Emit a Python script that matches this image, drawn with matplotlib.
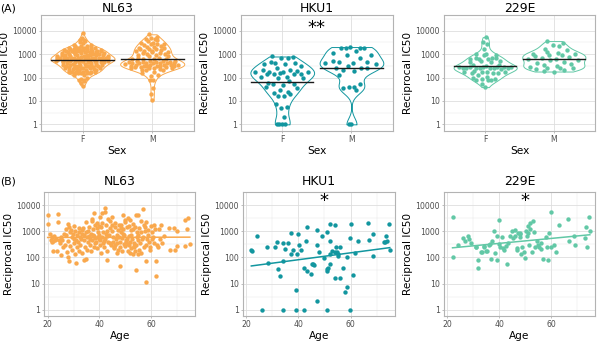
import numpy as np
import matplotlib
matplotlib.use("Agg")
import matplotlib.pyplot as plt

plt.rcParams["font.family"] = ["DejaVu Sans"]

# ---------------- data ----------------
viruses = ["NL63", "HKU1", "229E"]
colors = ["#F9A84D", "#12969F", "#62C8A6"]
sex_levels = ["F", "M"]
y_tick_labels = ["1", "10", "100", "1000", "10000"]
age_ticks = [20, 40, 60]
top_stars = ["", "**", ""]
bottom_stars = ["", "*", "*"]

nl63_age = [
    20, 20.2,
    21, 21.3, 21.6,
    22, 22.2, 22.5, 21.8,
    23, 23.4,
    24, 24.1, 23.8, 24.4,
    25, 25.3, 24.8,
    26, 26.3, 25.7,
    27, 27.2, 26.8, 27.4,
    28, 28.3, 27.7, 28.1, 28.5, 27.9,
    29, 29.3, 28.8, 29.5,
    30, 30.2, 29.8, 30.4, 30.1,
    31, 31.2, 30.7, 31.4, 31.1,
    32, 32.3, 31.8, 32.1, 32.5,
    33, 33.2, 32.7, 33.4, 33.1,
    34, 34.2, 33.7, 34.4, 34.1,
    35, 35.3, 34.8, 35.1, 35.5, 34.9,
    36, 36.2, 35.7, 36.4, 36.1,
    37, 37.3, 36.8, 37.1, 37.5, 36.9,
    38, 38.2, 37.7, 38.4, 38.1, 37.9, 38.5,
    39, 39.3, 38.8, 39.1, 39.5, 38.9,
    40, 40.2, 39.7, 40.4, 40.1, 39.9, 40.5,
    41, 41.3, 40.8, 41.1, 41.5, 40.9,
    42, 42.2, 41.7, 42.4, 42.1, 41.9, 42.5,
    43, 43.3, 42.8, 43.1, 43.5, 42.9,
    44, 44.2, 43.7, 44.4, 44.1,
    45, 45.3, 44.8, 45.1, 45.5, 44.9,
    46, 46.2, 45.7, 46.4, 46.1,
    47, 47.3, 46.8, 47.1, 47.5, 46.9,
    48, 48.2, 47.7, 48.4, 48.1, 47.9, 48.5,
    49, 49.3, 48.8, 49.1, 49.5, 48.9,
    50, 50.2, 49.7, 50.4, 50.1, 49.9, 50.5,
    51, 51.3, 50.8, 51.1, 51.5, 50.9, 51.4,
    52, 52.2, 51.7, 52.4, 52.1, 51.9,
    53, 53.3, 52.8, 53.1, 53.5, 52.9, 53.4,
    54, 54.2, 53.7, 54.4, 54.1, 53.9, 54.5,
    55, 55.3, 54.8, 55.1, 55.5, 54.9,
    56, 56.2, 55.7, 56.4, 56.1,
    57, 57.3, 56.8, 57.1, 57.5,
    58, 58.2, 57.7, 58.4, 58.1, 57.9,
    59, 59.3, 58.8, 59.5,
    60, 60.2, 59.7, 60.4,
    61, 61.3, 60.8,
    62, 62.1, 61.7, 62.4,
    63, 63.3, 62.8,
    64, 64.2,
    65,
    67, 67.2,
    69, 69.3,
    70, 70.2,
    73, 73.3,
    74, 74.4,
    75,
]
nl63_val = [
    4200, 1900,
    800, 450, 600,
    420, 170, 650, 380,
    450, 520,
    4400, 2200, 170, 480,
    120, 600, 350,
    250, 800, 450,
    1200, 700, 300, 160,
    1900, 1500, 100, 70, 900, 420,
    1100, 600, 280, 200,
    1600, 500, 800, 130, 350,
    60, 700, 1000, 250, 450,
    1300, 900, 400, 170, 600,
    500, 1100, 300, 150, 750,
    80, 700, 1300, 240, 450,
    2200, 600, 900, 200, 380, 90,
    1500, 500, 1000, 300, 650,
    2500, 3000, 800, 450, 1200, 180,
    4800, 1700, 700, 350, 650, 250, 550,
    2000, 900, 400, 1300, 600, 220,
    1600, 3500, 700, 450, 300, 500, 150,
    5000, 900, 1400, 600, 350, 2000,
    8000, 5500, 420, 800, 500, 250, 1700,
    80, 3000, 1000, 650, 400, 180,
    2500, 1300, 700, 300, 350,
    1800, 600, 1000, 400, 220, 3500,
    1500, 2000, 260, 500, 300,
    700, 1100, 350, 200, 1800, 150,
    45, 1800, 600, 900, 400, 250, 1300,
    4200, 1200, 550, 800, 320, 170,
    2600, 380, 700, 450, 2200, 280, 1400,
    3300, 1600, 500, 320, 300, 180, 650,
    2700, 1100, 400, 700, 230, 150,
    1900, 280, 500, 130, 350, 1200, 250,
    34, 4100, 1500, 600, 300, 180, 900,
    4300, 1300, 700, 450, 200, 130,
    2500, 900, 350, 500, 150,
    7000, 1700, 600, 250, 1000,
    11, 75, 1400, 500, 300, 2200,
    1100, 400, 700, 200,
    1600, 500, 250, 900,
    1800, 350, 600,
    20, 75, 1200, 300,
    1200, 500, 250,
    1700, 350,
    650,
    1300, 200,
    1300, 200,
    1000, 270,
    270, 2600,
    1200, 3100,
    330,
]
nl63_sex = ("FM" "FMF" "MFFM" "FM" "MFMF" "MFF" "MFF" "MFFM" "FMFFFM" "FMMF"
            "FMFFM" "FFMMF" "FMFFM" "FMMFF" "FFMMF" "MFFMFF" "FMFMF" "MFFMFF"
            "FMFMFFF" "MFMFFF" "FMFFMFF" "MFFMFF" "FMFMFFF" "FMFFMF" "FMFMF"
            "FFMMFF" "FMFMF" "FMFMFF" "FMFFMFF" "MFFMFF" "MFFMFFF" "FMFFMFF"
            "MFFMFF" "FMFMFFF" "MFFMFFF" "MFFMFF" "FMMFF" "MFFMF" "MMFFMF"
            "FMFF" "MFMF" "FMF" "MMFF" "MFF" "FM" "M" "FM" "MF" "FM" "FM" "FM" "F")

hku1_age = [22, 22.3, 24, 26, 28, 28.2, 31, 32, 32.2, 33, 34, 34.2, 34, 35, 36,
            37, 37.2, 38, 39, 39, 39.4, 40, 40.2, 41, 42, 42, 43, 43.2, 43.3,
            45, 45.3, 46, 45.8, 47, 47, 47.2, 48, 49, 50, 51, 51, 51.1, 51.2,
            51, 52, 52, 52.2, 52.1, 53, 54, 54, 54.1, 54.3, 54.7, 55, 55.1, 56,
            56, 57, 58, 58.7, 58.8, 59.7, 60, 59.8, 60.8, 61.6, 63, 66.6, 66.9,
            68.6, 68.7, 72.6, 73.3, 73.6, 73.8, 74.7, 75]
hku1_val = [185, 180, 665, 1, 260, 61, 260, 390, 36, 19, 70, 370, 1, 215, 370,
            890, 140, 200, 5.6, 1, 140, 770, 310, 200, 40, 1, 420, 30, 1400,
            24, 55, 50, 55, 310, 2.1, 1120, 165, 665, 92, 920, 30, 35, 40,
            1, 440, 55, 1850, 140, 170, 1800, 17, 155, 250, 165, 110, 130, 17,
            250, 40, 4.8, 7.5, 100, 530, 1850, 1, 22, 145, 440, 2000, 480,
            790, 110, 400, 400, 665, 420, 1900, 195]
hku1_sex = ("FFMFFFMFMFFFFMM" "MFFFMFFMFMFFFM" "FFFMFFMFFFMMFF"
            "MMFMFFMFFMFFM" "FMMFFFMMFFFFMM" "FFFMFMMM")

e229_age = [22, 22.2, 24, 26, 27, 28, 28.2, 29, 31, 31.2, 32, 32, 33, 33.4, 34,
            34.2, 35, 35.2, 36, 36.4, 37, 37.2, 38, 38.2, 39, 39, 40, 40, 40.5,
            41, 41.5, 42, 42.5, 43, 43.3, 44, 45, 45.4, 46, 46, 47, 47, 47.1,
            48, 48, 48.2, 48.4, 49, 49.4, 50, 50.2, 51, 50.7, 51.2, 51.5, 52,
            52, 52.5, 53, 53.5, 54, 54.5, 55, 55.3, 56, 56.3, 57, 58, 58.6,
            59, 59.4, 60, 60.1, 61, 62, 63, 66.5, 67, 69, 69.3, 73, 73.6, 74,
            74.8, 75]
e229_val = [3400, 103, 295, 540, 410, 660, 510, 340, 250, 260, 79, 39, 165, 160,
            260, 275, 170, 180, 295, 320, 90, 440, 1020, 150, 77, 660, 2700,
            330, 260, 590, 230, 195, 275, 54, 370, 630, 1020, 530, 1110, 660,
            230, 195, 840, 890, 590, 750, 130, 260, 165, 97, 1020, 1650, 660,
            890, 285, 2140, 1220, 165, 2400, 920, 260, 440, 295, 260, 205,
            350, 90, 590, 250, 82, 890, 5300, 250, 310, 155, 1700, 2950, 440,
            630, 295, 560, 1450, 260, 3600, 1000]
e229_sex = ("FFFMMFFFFM" "FFFFFFFMMF" "FFMFFFFMFM" "FFFFMFFFMM" "MMMFFMFFFF"
            "FMFMFMMFMM" "FMFMMFFFMF" "FFFMFFMFMF" "MMFMM")

ages = [nl63_age, hku1_age, e229_age]
vals = [nl63_val, hku1_val, e229_val]
sexes = [nl63_sex, hku1_sex, e229_sex]


# ---------------- helpers ----------------
def bw_nrd0(x):
    sd = np.std(x, ddof=1)
    iqr = np.subtract(*np.percentile(x, [75, 25]))
    lo = min(sd, iqr / 1.34) if iqr > 0 else sd
    return 0.9 * lo * len(x) ** -0.2


def kde(x, grid, h):
    z = (np.asarray(grid)[:, None] - x[None, :]) / h
    return np.exp(-0.5 * z ** 2).sum(1) / (len(x) * h * np.sqrt(2 * np.pi))


def vdc(k):
    # van der Corput radical inverse, base 2
    v, denom = 0.0, 1.0
    while k:
        denom *= 2
        v += (k % 2) / denom
        k //= 2
    return v


def style(ax):
    for s in ax.spines.values():
        s.set_color("#B3B3B3")
        s.set_linewidth(0.8)
    ax.tick_params(which="major", length=1.6, width=0.6, color="#B3B3B3",
                   labelsize=5.6, labelcolor="#4D4D4D", pad=1.3)
    ax.tick_params(which="minor", length=0)
    ax.grid(which="major", color="#DEDEDE", lw=0.6)
    ax.grid(which="minor", color="#E8E8E8", lw=0.35)
    ax.set_axisbelow(True)
    ax.set_yticks(range(5))
    ax.set_yticklabels(y_tick_labels)
    ax.set_yticks(np.arange(0.5, 4.6, 1), minor=True)
    ax.set_ylabel("Reciprocal IC50", fontsize=7.6, labelpad=1.6)


W, H = 600, 341
fig = plt.figure(figsize=(W / 100, H / 100), dpi=100)


def px_axes(x0, y0, x1, y1):
    return fig.add_axes([x0 / W, 1 - y1 / H, (x1 - x0) / W, (y1 - y0) / H])


top_boxes = [(40.7, 15, 194, 131), (240.7, 15, 393, 131), (444, 15, 595, 131)]
bot_boxes = [(44.3, 192, 195, 315.7), (242.7, 192, 395, 315.7), (444, 192, 595, 315.7)]

for i, name in enumerate(viruses):
    col = colors[i]
    a = np.array(ages[i], float)
    v = np.log10(np.array(vals[i], float))
    sx = np.array(list(sexes[i]))

    # ---- top row: violin + sina points by sex, geometric mean bar ----
    ax = px_axes(*top_boxes[i])
    for pos, lev in enumerate(sex_levels, start=1):
        y = v[sx == lev]
        h = bw_nrd0(y)
        grid = np.linspace(y.min(), y.max(), 300)
        d = kde(y, grid, h)
        half = 0.46 * d / d.max()
        ax.fill_betweenx(grid, pos - half, pos + half, facecolor="white",
                         edgecolor=col, lw=0.7, zorder=2)
        dy = 0.46 * kde(y, y, h) / d.max()
        rank = np.argsort(np.argsort(y))
        u = np.array([2 * vdc(r + 1) - 1 for r in rank])
        ax.scatter(pos + 0.88 * dy * u, y, s=10, color=col, lw=0, zorder=3)
        gm = y.mean()
        ax.plot([pos - 0.45, pos + 0.45], [gm, gm], color="#1A1A1A", lw=1.0, zorder=4)
    ax.set_xlim(0.4, 2.6)
    ax.set_ylim(-0.285, 4.67)
    ax.set_xticks([1, 2])
    ax.set_xticklabels(sex_levels)
    style(ax)
    ax.set_xlabel("Sex", fontsize=7.6, labelpad=1.6)
    ax.set_title(name, fontsize=8.9, pad=2.2)
    if top_stars[i]:
        ax.text(1.5, 4.1, top_stars[i], ha="center", va="center", fontsize=13)

    # ---- bottom row: age scatter + lm line ----
    ax = px_axes(*bot_boxes[i])
    ax.scatter(a, v, s=10, color=col, lw=0, zorder=3)
    k, b = np.polyfit(a, v, 1)
    xx = np.array([a.min(), a.max()])
    ax.plot(xx, k * xx + b, color=col, lw=1.1, zorder=4)
    ax.set_xlim(18.7, 77)
    ax.set_ylim(-0.23, 4.47)
    ax.set_xticks(age_ticks)
    ax.set_xticks([30, 50, 70], minor=True)
    style(ax)
    ax.set_xlabel("Age", fontsize=7.6, labelpad=1.6)
    ax.set_title(name, fontsize=8.9, pad=5.3)
    if bottom_stars[i]:
        ax.text(50, 4.15, bottom_stars[i], ha="center", va="center", fontsize=13)

fig.text(0.0, 1 - 8.5 / H, "(A)", fontsize=7.8, va="center", ha="left")
fig.text(0.0, 1 - 181 / H, "(B)", fontsize=7.8, va="center", ha="left")

fig.savefig("out.png", dpi=100)
